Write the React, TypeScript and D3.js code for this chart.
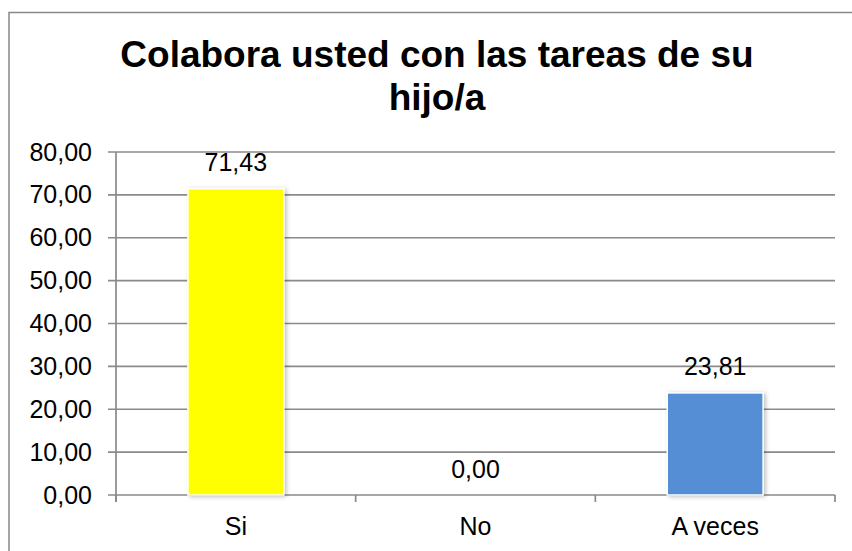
import React from "react";
import * as d3 from "d3";

const categories = ["Si", "No", "A veces"];
const values = [71.43, 0.0, 23.81];
const barColors = ["#FFFF00", "#558ED5", "#558ED5"];
const yTicks = [0, 10, 20, 30, 40, 50, 60, 70, 80];
const title = ["Colabora usted con las tareas de su", "hijo/a"];

const fmt = (v: number) => v.toFixed(2).replace(".", ",");

export default function App() {
  const W = 852, H = 551;
  const left = 116, right = 835, top = 152, bottom = 495;
  const x = d3.scaleBand<string>().domain(categories).range([left, right]).paddingInner(0.6).paddingOuter(0.3);
  const xb = d3.scaleBand<string>().domain(categories).range([left, right]);
  const y = d3.scaleLinear().domain([0, 80]).range([bottom, top]);
  const font = "'Liberation Sans', Arial, sans-serif";
  const grid = "#8a8a8a";
  return (
    <svg width={W} height={H} style={{ position: "absolute", left: 0, top: 0, background: "#fff" }} fontFamily={font}>
      <defs>
        <filter id="sh" x="-20%" y="-20%" width="140%" height="140%">
          <feDropShadow dx="2" dy="1" stdDeviation="2" floodColor="#000" floodOpacity="0.25" />
        </filter>
      </defs>
      <rect x={9} y={12.5} width={900} height={600} fill="#fff" stroke="#888" strokeWidth={1.5} />
      {title.map((t, i) => (
        <text key={i} x={437} y={67 + i * 43} textAnchor="middle" fontSize={37} fontWeight="bold" fill="#000">{t}</text>
      ))}
      {yTicks.map((t) => (
        <g key={t}>
          <line x1={left - 8} x2={right} y1={y(t)} y2={y(t)} stroke={grid} strokeWidth={1.7} />
          <text x={92} y={y(t) + 8.5} textAnchor="end" fontSize={25} fill="#000">{fmt(t)}</text>
        </g>
      ))}
      <line x1={left} x2={left} y1={top} y2={bottom + 7} stroke={grid} strokeWidth={1.7} />
      {[...categories.map((c) => xb(c)!), right].map((bx, i) => (
        <line key={i} x1={bx} x2={bx} y1={bottom} y2={bottom + 7} stroke={grid} strokeWidth={1.7} />
      ))}
      {categories.map((c, i) => (
        <g key={c}>
          {values[i] > 0 && (
            <rect x={x(c)} y={y(values[i])} width={x.bandwidth()} height={bottom - y(values[i])}
              fill={barColors[i]} stroke="#fff" strokeWidth={1.5} filter="url(#sh)" />
          )}
          <text x={x(c)! + x.bandwidth() / 2} y={y(values[i]) - 17.5} textAnchor="middle" fontSize={25} fill="#000">{fmt(values[i])}</text>
          <text x={xb(c)! + xb.bandwidth() / 2} y={535} textAnchor="middle" fontSize={25} fill="#000">{c}</text>
        </g>
      ))}
    </svg>
  );
}
